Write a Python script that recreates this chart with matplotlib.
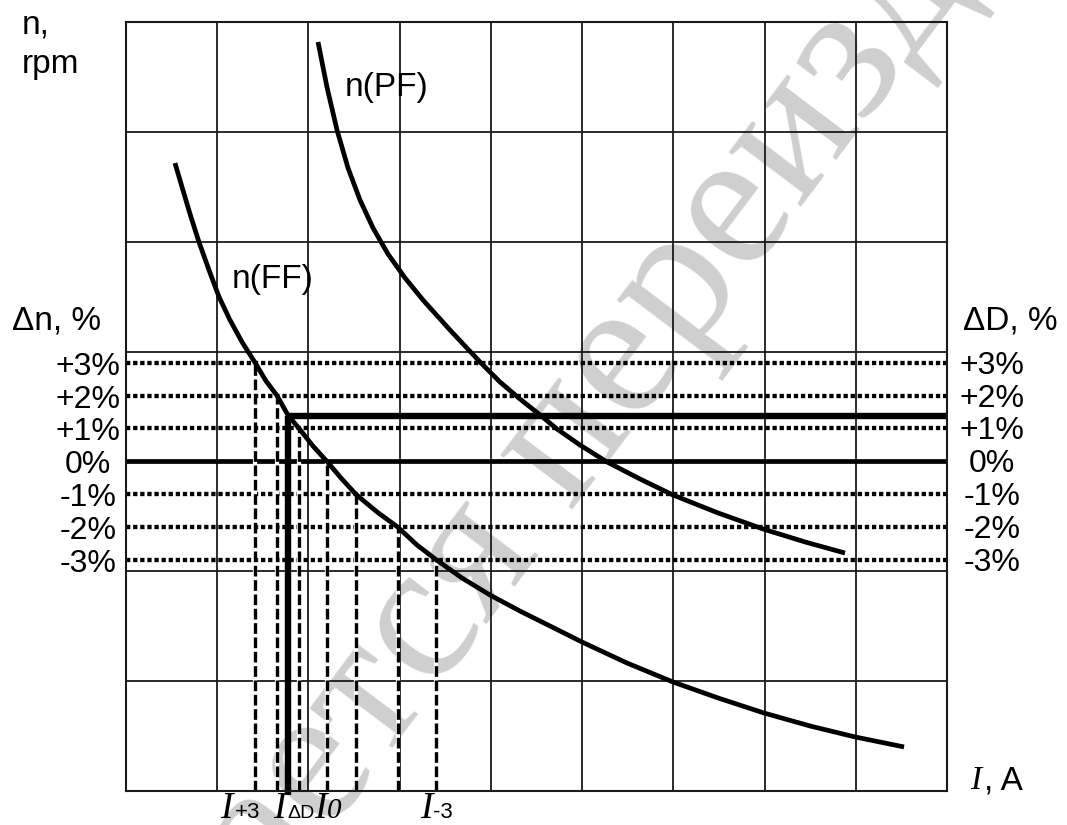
import matplotlib
matplotlib.use("Agg")
import matplotlib.pyplot as plt

# curve values in grid units (9 x 7 cells, the chart has no numeric scale)
I_ff = [0.537, 0.614, 0.702, 0.800, 0.910, 1.020, 1.140, 1.272, 1.414, 1.535,
        1.655, 1.776, 1.897, 2.050, 2.203, 2.357, 2.521, 2.752, 2.982, 3.190,
        3.409, 3.683, 3.990, 4.319, 4.648, 4.999, 5.492, 5.997, 6.490, 6.994,
        7.498, 7.992, 8.529]
n_ff = [5.716, 5.498, 5.252, 4.997, 4.742, 4.497, 4.287, 4.087, 3.900, 3.732,
        3.600, 3.420, 3.300, 3.140, 3.000, 2.849, 2.700, 2.540, 2.400, 2.239,
        2.100, 1.939, 1.784, 1.638, 1.502, 1.356, 1.165, 0.992, 0.847, 0.710,
        0.592, 0.492, 0.401]

I_pf = [2.105, 2.203, 2.313, 2.434, 2.565, 2.708, 2.872, 3.059, 3.256, 3.552,
        3.881, 4.100, 4.319, 4.539, 4.725, 4.977, 5.273, 5.635, 5.997, 6.490,
        6.983, 7.444, 7.882]
n_pf = [6.818, 6.408, 6.017, 5.671, 5.380, 5.125, 4.888, 4.670, 4.469, 4.196,
        3.905, 3.723, 3.568, 3.423, 3.295, 3.149, 2.995, 2.840, 2.694, 2.531,
        2.385, 2.267, 2.166]

pct = [3, 2, 1, 0, -1, -2, -3]
pct_labels = ['+3%', '+2%', '+1%', '0%', '-1%', '-2%', '-3%']
n_zero = 3.0
n_step = 0.3                     # one percent in grid units
I_cross = [1.414, 1.655, 1.897, 2.203, 2.521, 2.982, 3.398]   # FF at each level
I_dD = 1.776
n_dD = 3.413

W, H = 1067, 825
fig = plt.figure(figsize=(W / 100, H / 100), dpi=100)
plt.rcParams['font.family'] = ['Liberation Sans', 'DejaVu Sans']

def fx(px):
    return px / W

def fy(py):
    return 1 - py / H

# watermark
fig.text(fx(700), fy(262), 'ается переиздание', rotation=53, rotation_mode='anchor',
         ha='center', va='center', fontsize=142, family='Liberation Serif',
         color='#cfcfcf', zorder=-1)

ax = fig.add_axes([fx(126), 34 / H, 821 / W, 769 / H])
ax.patch.set_alpha(0)
ax.set_xlim(0, 9)
ax.set_ylim(0, 7)
ax.set_xticks(range(10))
ax.set_yticks(range(8))
ax.tick_params(length=0, labelbottom=False, labelleft=False)
ax.grid(True, color='#1a1a1a', lw=1.3)
for s in ax.spines.values():
    s.set_linewidth(1.5)
    s.set_color('#1a1a1a')

# dotted percent levels and solid 0%
for p in pct:
    y = n_zero + n_step * p
    if p == 0:
        ax.axhline(y, color='k', lw=3.4)
    else:
        ax.axhline(y, color='k', lw=3.1, ls=(0, (1.0, 0.65)), dash_capstyle='butt')

# dashed drops from FF crossings
for i, p in zip(I_cross, pct):
    y = n_zero + n_step * p
    ax.plot([i, i], [0, y], color='white', lw=3.0, solid_capstyle='butt')
    ax.plot([i, i], [0, y], color='k', lw=2.4, ls=(0, (3.2, 1.1)), dash_capstyle='butt')

# Delta D line
ax.plot([I_dD, 9], [n_dD, n_dD], color='k', lw=4.6, solid_capstyle='butt', clip_on=False)
ax.plot([I_dD, I_dD], [-0.04, n_dD], color='k', lw=4.6, solid_capstyle='butt', clip_on=False)

ax.plot(I_ff, n_ff, color='k', lw=3.4, solid_capstyle='butt', solid_joinstyle='round')
ax.plot(I_pf, n_pf, color='k', lw=3.4, solid_capstyle='butt', solid_joinstyle='round')

# percent labels both sides
for p, lab in zip(pct, pct_labels):
    y = n_zero + n_step * p
    ax.annotate(lab, xy=(0, y), xycoords=ax.get_yaxis_transform(), xytext=(-38, -12),
                textcoords='offset pixels', ha='center', va='baseline', fontsize=23)
    ax.annotate(lab, xy=(1, y), xycoords=ax.get_yaxis_transform(), xytext=(45, -11),
                textcoords='offset pixels', ha='center', va='baseline', fontsize=23)

fs = 24
fig.text(fx(22), fy(33), 'n,', fontsize=fs, va='baseline')
fig.text(fx(22), fy(73), 'rpm', fontsize=fs, va='baseline')
fig.text(fx(12), fy(330), 'Δn, %', fontsize=fs, va='baseline')
fig.text(fx(963), fy(330), 'ΔD, %', fontsize=fs, va='baseline')
fig.text(fx(345), fy(96), 'n(PF)', fontsize=fs, va='baseline')
fig.text(fx(232), fy(288), 'n(FF)', fontsize=fs, va='baseline')

# current labels under the grid
serif = dict(family='Liberation Serif', style='italic', va='baseline')
base = fy(818)
fig.text(fx(220), base, 'I', fontsize=27, **serif)
fig.text(fx(235), base, '+3', fontsize=16, va='baseline')
fig.text(fx(273), base, 'I', fontsize=27, **serif)
fig.text(fx(287), base, 'ΔD', fontsize=14, va='baseline')
fig.text(fx(314), base, 'I', fontsize=27, **serif)
fig.text(fx(327), base, '0', fontsize=21, **serif)
fig.text(fx(420), base, 'I', fontsize=27, **serif)
fig.text(fx(433), base, '-3', fontsize=16, va='baseline')

fig.text(fx(970), fy(789), 'I', fontsize=24, **serif)
fig.text(fx(984), fy(789), ', A', fontsize=24, va='baseline')

fig.savefig('out.png', dpi=100)
